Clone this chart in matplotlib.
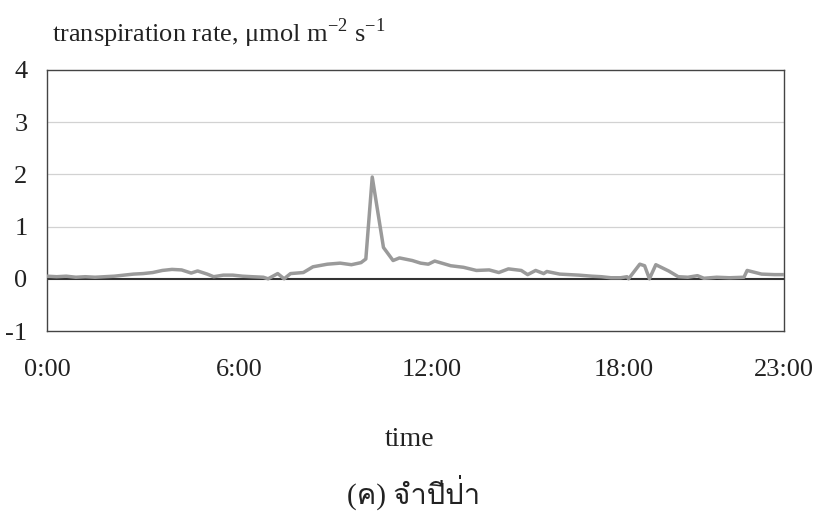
import matplotlib
matplotlib.use('Agg')
import matplotlib.pyplot as plt
from matplotlib import font_manager
from matplotlib.ft2font import FT2Font

# hours of day and transpiration rate
hours = [0.0, 0.3, 0.6, 0.9, 1.2, 1.5, 1.8, 2.1, 2.4, 2.7, 3.0, 3.3, 3.6, 3.9,
         4.2, 4.5, 4.7, 5.0, 5.2, 5.5, 5.8, 6.1, 6.4, 6.75, 6.9, 7.2, 7.4, 7.6,
         8.0, 8.3, 8.75, 9.15, 9.5, 9.8, 9.95, 10.15, 10.5, 10.8, 11.0, 11.4,
         11.66, 11.9, 12.1, 12.6, 13.0, 13.4, 13.8, 14.1, 14.4, 14.8, 15.0,
         15.25, 15.5, 15.6, 16.0, 16.6, 17.0, 17.3, 17.6, 17.9, 18.1, 18.15,
         18.5, 18.65, 18.8, 19.0, 19.4, 19.7, 20.0, 20.3, 20.5, 20.9, 21.3,
         21.75, 21.85, 22.3, 22.7, 23.0]
rate = [0.05, 0.04, 0.05, 0.03, 0.04, 0.03, 0.04, 0.05, 0.07, 0.09, 0.10, 0.12,
        0.16, 0.18, 0.17, 0.11, 0.15, 0.09, 0.04, 0.07, 0.07, 0.05, 0.04, 0.03,
        0.0, 0.10, 0.0, 0.10, 0.12, 0.23, 0.28, 0.30, 0.27, 0.31, 0.38, 1.95,
        0.6, 0.35, 0.40, 0.35, 0.30, 0.28, 0.34, 0.25, 0.22, 0.16, 0.17, 0.12,
        0.19, 0.16, 0.08, 0.16, 0.10, 0.14, 0.09, 0.07, 0.05, 0.04, 0.02, 0.02,
        0.04, 0.0, 0.28, 0.25, 0.0, 0.27, 0.15, 0.04, 0.03, 0.06, 0.01, 0.03,
        0.02, 0.03, 0.16, 0.09, 0.08, 0.08]

xticks = [0, 6, 12, 18, 23]
xticklabels = ['0:00', '6:00', '12:00', '18:00', '23:00']
yticks = [-1, 0, 1, 2, 3, 4]

# find an installed font that can draw Thai
thai_font = None
for f in font_manager.fontManager.ttflist:
    try:
        if 0x0E08 in FT2Font(f.fname).get_charmap():
            thai_font = f.name
            break
    except Exception:
        pass

plt.rcParams['font.family'] = ['Liberation Serif', 'DejaVu Serif']
plt.rcParams['mathtext.fontset'] = 'custom'
plt.rcParams['mathtext.rm'] = 'Liberation Serif'
plt.rcParams['axes.unicode_minus'] = False

fig = plt.figure(figsize=(8.24, 5.22), dpi=100)
ax = fig.add_axes([47/824, 1 - 331/522, (784 - 47)/824, (331 - 70)/522])

for y in [1, 2, 3]:
    ax.axhline(y, color='#d2d2d2', lw=0.9, zorder=1)
ax.axhline(0, color='#333333', lw=1.5, zorder=2)
ax.plot(hours, rate, color='#9a9a9a', lw=2.5, zorder=3)

ax.set_xlim(0, 23)
ax.set_ylim(-1, 4)
ax.set_xticks(xticks)
ax.set_xticklabels(xticklabels)
ax.set_yticks(yticks)
ax.tick_params(length=0, labelsize=19, colors='#222222')
ax.tick_params(axis='x', pad=20)
ax.tick_params(axis='y', pad=14)
for s in ax.spines.values():
    s.set_color('#444444')
    s.set_linewidth(1.0)

fig.text(52/824, 1 - 42/522,
         r'transpiration rate, $\mathrm{\mu}$mol m$^{\mathrm{-2}}$ s$^{\mathrm{-1}}$',
         fontsize=19, color='#222222')
fig.text(410/824, 1 - 440/522, 'time', fontsize=20, color='#222222',
         ha='center', va='center')
cap_family = ['Liberation Serif', thai_font] if thai_font else ['Liberation Serif', 'DejaVu Sans']
fig.text(414/824, 1 - 492/522, '(ค) จำปีป่า', fontsize=21, color='#222222',
         ha='center', va='center', family=cap_family)

fig.savefig('out.png', dpi=100, facecolor='white')
